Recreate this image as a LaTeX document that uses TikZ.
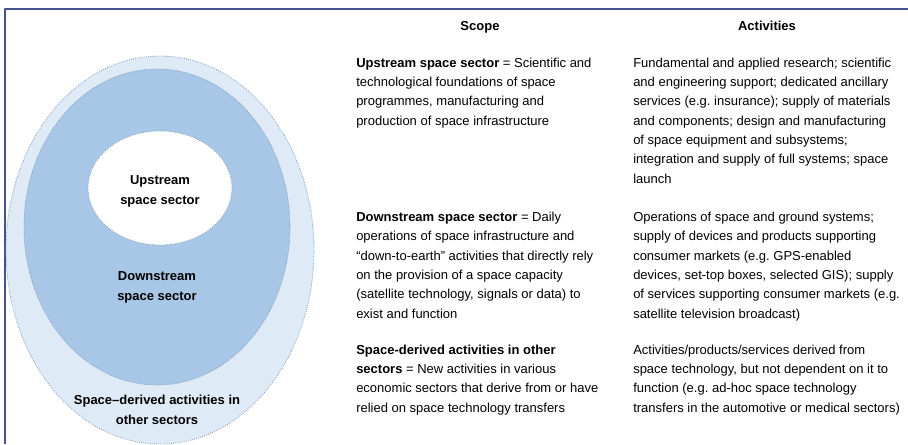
\documentclass[tikz,border=0pt]{standalone}
\usepackage{fontspec}
\setmainfont{Liberation Sans}
\definecolor{framec}{HTML}{44538F}
\definecolor{outerc}{HTML}{DEEAF6}
\definecolor{midc}{HTML}{A8C7E7}
\definecolor{rimc}{HTML}{7E9CBC}
\begin{document}
\frenchspacing
\begin{tikzpicture}[x=0.75pt,y=-0.75pt,line join=round,
		txt/.style={inner sep=0pt,anchor=base west,align=left,font=\fontsize{9.75}{14.5}\selectfont},
		head/.style={inner sep=0pt,anchor=base,font=\fontsize{9.75}{14.5}\selectfont\bfseries},
		lbl/.style={inner sep=0pt,anchor=base,align=center,font=\fontsize{9.75}{14.9}\selectfont\bfseries},
		rim/.style={draw=rimc,densely dotted,line width=0.6pt}]
	\useasboundingbox (0,0) rectangle (908,444);
	\draw[framec,line width=0.9pt](908,9)--(5,9)--(5,444);
	% nested sectors
	\fill[outerc] (160,250) ellipse [x radius=154,y radius=194];
	\draw[rim] (160,250) ellipse [x radius=154,y radius=194];
	\fill[midc] (157,227) ellipse [x radius=133,y radius=158];
	\draw[rim] (157,227) ellipse [x radius=133,y radius=158];
	\fill[white] (160,188) ellipse [x radius=72,y radius=57];
	\draw[rim] (160,188) ellipse [x radius=72,y radius=57];
	% labels sit on the baseline of their last line
	\node[lbl] (up) at (160,204) {Upstream\\space sector};
	\node[lbl] (down) at (157,300) {Downstream\\space sector};
	\node[lbl] (der) at (157,424) {Space--derived activities in\\other sectors};
	% table
	\node[head] (scope) at (480,30) {Scope};
	\node[head] (act) at (767,30) {Activities};
	\node[txt] (s1) at (356,125) {\textbf{Upstream space sector} = Scientific and\\technological foundations of space\\programmes, manufacturing and\\production of space infrastructure};
	\node[txt] (s2) at (356,318) {\textbf{Downstream space sector} = Daily\\operations of space infrastructure and\\“down-to-earth” activities that directly rely\\on the provision of a space capacity\\(satellite technology, signals or data) to\\exist and function};
	\node[txt] (s3) at (356,412) {\textbf{Space-derived activities in other}\\\textbf{sectors} = New activities in various\\economic sectors that derive from or have\\relied on space technology transfers};
	\node[txt] (a1) at (633,183) {Fundamental and applied research; scientific\\and engineering support; dedicated ancillary\\services (e.g. insurance); supply of materials\\and components; design and manufacturing\\of space equipment and subsystems;\\integration and supply of full systems; space\\launch};
	\node[txt] (a2) at (633,318) {Operations of space and ground systems;\\supply of devices and products supporting\\consumer markets (e.g. GPS-enabled\\devices, set-top boxes, selected GIS); supply\\of services supporting consumer markets (e.g.\\satellite television broadcast)};
	\node[txt] (a3) at (633,412) {Activities/products/services derived from\\space technology, but not dependent on it to\\function (e.g. ad-hoc space technology\\transfers in the automotive or medical sectors)};
\end{tikzpicture}
\end{document}
